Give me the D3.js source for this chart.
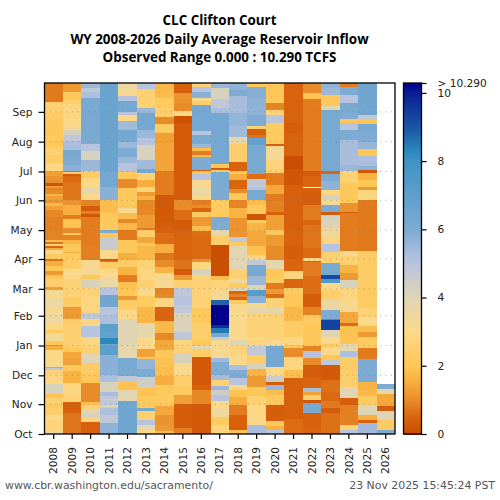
<!DOCTYPE html>
<html>
<head>
<meta charset="utf-8">
<script src="https://d3js.org/d3.v7.min.js"></script>
<style>
body { margin: 0; background: #fff; }
text { font-family: "DejaVu Sans", sans-serif; }
</style>
</head>
<body>
<script>
"use strict";

/* Each water year: [last day of the run counted from Oct 1, inflow in TCFS] */
var wy2008 = [[3,3.6],[15,2.7],[20,2.9],[27,2.4],[32,2.2],[37,2.6],[42,1.9],[52,4.2],[61,2.8],[67,2.6],[69,4.8],[70,5.6],[75,3.2],[87,2.9],[91,1.5],[93,1.1],[97,2],[105,3.3],[108,2.2],[115,2.9],[125,3.5],[132,3.2],[140,3.6],[150,3.2],[153,1.3],[162,2.4],[165,1.9],[169,1.2],[175,2],[180,1.5],[182,0.7],[187,2.2],[191,3],[193,1.5],[195,0.5],[198,2.5],[200,0.7],[202,1.8],[212,0.9],[226,0.85],[233,0.95],[237,1.3],[240,1.7],[243,1.1],[247,1.3],[250,1.6],[254,1],[256,0.9],[258,1.2],[261,0.2],[263,1],[268,1.1],[274,1.3],[282,2.9],[290,2.3],[296,2.6],[300,2.3],[305,2],[310,2.2],[328,2.1],[335,2.3],[345,2.5],[365,0.75]];
var wy2009 = [[22,0.7],[33,0.4],[40,2.6],[53,2.8],[65,1.6],[72,2.1],[79,1.3],[85,1.4],[89,2],[112,2.5],[120,2.4],[132,1.2],[141,2.3],[152,2.5],[161,2.6],[172,3],[181,2.3],[188,2.2],[189,1.5],[198,2.1],[202,1.7],[207,0.9],[209,2],[214,1],[224,1.9],[228,0.8],[238,1.5],[243,1.1],[262,0.7],[268,0.55],[270,0.3],[272,2.4],[274,0.6],[280,5.8],[287,6],[295,6.2],[301,5.3],[305,5.2],[311,4.8],[316,4.2],[321,3.2],[328,3],[343,2.8],[347,2.4],[356,2.1],[365,1.2]];
var wy2010 = [[12,0.4],[17,2.8],[22,4.2],[26,4],[30,2.5],[33,1.9],[53,1],[61,2],[74,2.3],[83,4],[90,2.5],[101,2.8],[112,5],[120,2.8],[126,4.8],[143,2.8],[152,2.6],[161,4.2],[165,2],[181,3.2],[195,0.85],[226,0.8],[229,0.2],[232,0.85],[237,0.3],[243,0.9],[250,3],[257,3.8],[266,2.9],[273,2.2],[285,5.5],[294,4.2],[302,5],[306,6],[349,6.2],[356,5.2],[360,4.8],[365,5.5]];
var wy2011 = [[11,5.7],[20,4.8],[27,5.2],[28,2.1],[30,4],[35,4.8],[36,2],[39,4.8],[44,5.3],[54,4.2],[61,5.2],[82,5.8],[91,7],[94,6.5],[100,8.3],[106,6.8],[114,7],[124,5.2],[132,5],[145,6.4],[153,5],[162,3.6],[172,3],[179,2.3],[180,0.8],[182,0.3],[191,3],[205,4.6],[209,2],[212,6],[216,2.2],[230,2.1],[243,1.8],[257,5.8],[273,6.3],[365,6.6]];
var wy2012 = [[34,6.4],[46,3.9],[54,1.9],[60,4.8],[79,6.2],[91,3.8],[120,4],[129,3],[139,2.3],[143,1.2],[150,2],[158,1.9],[165,0.8],[174,1.6],[181,2.3],[188,1.5],[202,2.1],[212,0.75],[219,1.7],[224,0.95],[230,1.8],[235,3.2],[256,2.1],[265,1],[272,2.1],[282,5],[288,5.5],[297,6],[304,5.5],[316,6.3],[325,5.4],[332,3],[335,5],[346,6.3],[351,5],[359,3.2],[365,3.6]];
var wy2013 = [[4,3],[9,3.8],[15,5],[24,2.5],[27,6.2],[39,2.1],[48,1.9],[59,4.4],[68,6],[78,5.6],[80,2],[88,1.3],[101,3],[115,3.8],[120,1.6],[132,1.7],[143,2.2],[152,3],[160,2.5],[171,2.8],[181,2.6],[195,1.7],[199,2],[205,1.4],[212,2.4],[214,0.8],[228,1.2],[243,0.95],[248,1.6],[252,1.2],[257,2.7],[264,1.5],[271,2.6],[276,6.2],[285,5.4],[301,4.2],[308,5],[316,5.5],[334,6.3],[339,5.5],[351,2.5],[359,2.5],[365,5]];
var wy2014 = [[3,1.8],[9,1.2],[20,1.1],[29,1.4],[41,2.2],[51,2.1],[60,1.5],[70,1.8],[79,1.9],[87,2.1],[98,1.4],[105,0.95],[117,1.7],[132,0.5],[141,2.8],[146,1],[152,0.9],[167,3.2],[174,1.6],[181,1],[188,0.7],[198,1.5],[209,0.6],[214,0.4],[219,0.35],[249,0.25],[273,0.8],[304,1.35],[313,1.3],[322,2.2],[330,1],[339,2.4],[349,2.2],[356,1.8],[365,1.7]];
var wy2015 = [[6,0.85],[31,0.35],[41,1.3],[49,2.2],[61,2.4],[74,3.1],[84,4.2],[90,2.6],[98,2.8],[106,4.8],[126,4.1],[134,4.8],[143,5],[152,4.8],[160,2.5],[165,1.2],[172,0.3],[181,0.7],[205,0.5],[212,0.45],[223,0.3],[233,0.6],[243,1],[249,0.3],[323,0.3],[331,0.1],[336,2.9],[344,1],[355,1.1],[365,0.4]];
var wy2016 = [[31,0.25],[46,0.95],[51,0.4],[80,0.25],[88,2.3],[91,4],[98,2.1],[115,2.4],[131,2.1],[165,2.6],[172,4.2],[179,2.8],[182,1.1],[205,0.55],[211,0.6],[216,1.8],[226,1.2],[231,2.2],[235,0.5],[238,1],[243,0.8],[248,3],[256,3.6],[264,3.2],[270,5],[273,2],[275,0.3],[288,6],[290,1.8],[294,0.8],[297,1.8],[302,5.5],[311,6.2],[315,5],[342,6.3],[346,2.4],[349,3],[356,5.8],[361,5],[365,2.7]];
var wy2017 = [[9,2.8],[18,2.2],[27,3.4],[34,3],[41,5],[46,4.5],[50,5.5],[56,2.6],[61,5.3],[75,6],[79,5.4],[98,3.2],[101,4.5],[105,6.2],[110,8.5],[113,9.7],[134,10.29],[139,8.8],[150,3.2],[160,2.7],[164,1.8],[197,0.05],[207,2.4],[212,3.8],[226,6],[243,2.2],[272,6.1],[275,2.4],[277,0.3],[281,2],[334,6.3],[339,5.2],[348,4.8],[360,4.2],[365,5.5]];
var wy2018 = [[4,1.9],[6,0.4],[20,0.4],[30,0.8],[38,1.5],[46,1.9],[51,2.9],[58,5],[67,6],[72,5.2],[82,3],[91,2.7],[98,3.9],[120,3],[135,3.1],[139,2.2],[142,0.5],[146,0.9],[149,0.5],[152,4],[157,2.2],[161,3.5],[171,2.5],[179,4],[195,3.9],[200,2.2],[205,4.8],[214,1.1],[225,1.1],[235,1.6],[243,0.9],[251,2],[255,1],[264,0.5],[270,1.5],[273,2],[283,0.45],[302,2.4],[309,3.8],[320,5.4],[334,5.6],[351,5.3],[358,6],[365,5.7]];
var wy2019 = [[9,5.3],[20,3],[30,2.9],[39,2.5],[49,2],[60,1.2],[68,1.6],[74,4.2],[82,2.3],[91,4.8],[101,2.8],[126,2.6],[132,3.8],[136,3.2],[143,5.8],[150,7.2],[155,4],[164,5.5],[176,6.2],[181,4.8],[186,2.8],[195,1.9],[211,1.4],[219,1.6],[223,2.2],[229,0.2],[238,2.1],[243,1.8],[254,6.2],[257,5],[265,4.8],[270,0.6],[301,6.2],[308,6.8],[311,0.7],[317,0.4],[320,2.5],[332,6],[349,5.7],[361,5.9],[365,2]];
var wy2020 = [[4,5],[8,1.6],[13,2.1],[30,0.35],[41,2.1],[46,1.8],[51,5.5],[54,0.3],[60,4.5],[70,2.9],[91,6.3],[98,3.2],[126,2.6],[132,3.8],[141,2.6],[146,0.6],[151,1.2],[157,0.8],[164,2.2],[172,2],[181,3.8],[195,1],[207,1.2],[212,2],[228,1.3],[231,0.4],[242,0.85],[250,0.8],[259,1.4],[271,0.8],[276,2.5],[285,2.7],[299,3.3],[302,0.4],[323,2.2],[332,4.9],[337,2.7],[344,0.9],[354,2],[365,2]];
var wy2021 = [[16,0.6],[30,0.4],[58,0.42],[67,1.8],[80,2.8],[89,1],[93,2],[101,2.8],[117,2.3],[132,1.7],[146,2],[152,2.2],[161,0.5],[169,2.7],[182,0.5],[197,0.35],[212,0.45],[259,0.4],[273,0.2],[275,0.3],[289,0.05],[313,0.45],[323,0.35],[365,0.45]];
var wy2022 = [[8,0.45],[22,0.4],[32,6.2],[35,0.2],[41,2.4],[44,1.3],[48,5.3],[58,0.5],[72,0.35],[79,1],[86,5],[91,0.9],[115,2],[124,2.2],[132,0.9],[146,0.35],[164,0.6],[179,0.8],[180,0.4],[183,3],[193,0.55],[217,0.7],[223,0.5],[238,0.8],[256,0.35],[257,null],[268,0.5],[274,0.3],[348,0.8],[355,1.9],[365,1]];
var wy2023 = [[22,0.65],[27,0.3],[34,0.75],[44,0.55],[56,0.65],[72,0.25],[77,4.8],[82,2],[89,3],[94,2.3],[101,3],[108,4],[119,9.3],[120,8],[129,6],[139,3.6],[150,2.4],[157,3],[161,7.5],[165,9.2],[178,6.2],[189,2.5],[198,5],[205,2.8],[214,3.4],[224,4.1],[228,4.3],[231,0.3],[238,6.1],[243,3.3],[249,4.2],[254,2.8],[263,5.7],[270,6],[273,0.5],[337,6.2],[341,3.8],[353,2.1],[360,5.5],[365,5.7]];
var wy2024 = [[4,5],[9,2.6],[30,0.85],[37,0.35],[49,3.9],[63,2.4],[80,2.3],[86,5.2],[94,3.8],[112,1.9],[115,0.6],[127,1.4],[138,3.2],[152,2.8],[160,4.2],[167,1.2],[176,1.6],[185,2.5],[190,3.2],[230,0.8],[231,0.4],[240,1.1],[249,2.1],[261,2.1],[270,2.5],[274,2.8],[280,5.5],[306,5.3],[316,6],[323,5],[328,2],[335,6],[344,6.2],[353,5],[361,6],[365,0.8]];
var wy2025 = [[11,5.4],[15,0.4],[20,1.5],[30,4],[39,2.2],[46,1.7],[54,1.6],[78,6],[89,0.75],[101,2.2],[106,1.2],[112,1.8],[122,3],[131,2.6],[152,2.2],[190,2.3],[243,0.75],[254,2.8],[257,1.2],[264,2],[271,1.6],[275,0.2],[279,5.7],[289,5.2],[296,2],[304,5.6],[313,6],[322,6.2],[327,2],[332,4.8],[365,6.4]];
var wy2026 = [[4,6],[15,2.3],[24,4],[29,0.35],[42,1.4],[47,3.8],[52,6]];

var years = ["2008","2009","2010","2011","2012","2013","2014","2015","2016","2017","2018","2019","2020","2021","2022","2023","2024","2025","2026"];
var runs = [wy2008,wy2009,wy2010,wy2011,wy2012,wy2013,wy2014,wy2015,wy2016,wy2017,wy2018,wy2019,wy2020,wy2021,wy2022,wy2023,wy2024,wy2025,wy2026];

var monthNames = ["Oct","Nov","Dec","Jan","Feb","Mar","Apr","May","Jun","Jul","Aug","Sep"];
var monthDays = [0,31,61,92,123,151,182,212,243,273,304,335];

var colorStops = [0,0.5,1,1.5,2,3,4,5,6,7,8,8.3,9,10,10.29];
var colorHexes = ["#c94c00","#d9650f","#e88c2a","#f7ae3e","#fec757","#fcd98a","#dfd5b5","#b8c4df","#7eabd3","#5d9fcb","#3f94c4","#2a88ba","#1a55a5","#0a1e95","#00008b"];
var barTicks = [0,2,4,6,8,10,10.29];

var titleLines = ["CLC Clifton Court","WY 2008-2026 Daily Average Reservoir Inflow","Observed Range 0.000 : 10.290 TCFS"];

var svg = d3.select("body").append("svg").attr("width",500).attr("height",500);
var plot = {left:44.5, right:395, top:83, bottom:434};

var x = d3.scaleBand().domain(years).range([plot.left,plot.right]);
var y = d3.scaleLinear().domain([0,365]).range([plot.bottom,plot.top]);
var color = d3.scaleLinear().domain(colorStops).range(colorHexes).clamp(true);

// title
svg.append("g").selectAll("text").data(titleLines).enter().append("text")
	.attr("x",219.5).attr("y",function(d,i){ return 25+i*18.7; })
	.attr("text-anchor","middle")
	.style("font-family","'Open Sans'").style("font-weight",700).style("font-size","13.4px")
	.text(function(d){ return d; });

// heatmap cells, one rect per run
years.forEach(function(yr,i){
	var start = 0;
	runs[i].forEach(function(r){
		if (r[1] !== null) {
			svg.append("rect")
				.attr("x",x(yr)).attr("width",x.bandwidth())
				.attr("y",y(r[0])).attr("height",y(start)-y(r[0]))
				.attr("fill",color(r[1]))
				.attr("shape-rendering","crispEdges");
		}
		start = r[0];
	});
});

// month grid
svg.append("g").selectAll("line").data(monthDays.slice(1)).enter().append("line")
	.attr("x1",plot.left).attr("x2",plot.right)
	.attr("y1",function(d){ return y(d); }).attr("y2",function(d){ return y(d); })
	.attr("stroke","#777").attr("stroke-opacity",0.55).attr("stroke-width",1)
	.attr("stroke-dasharray","1,4.5");

// frame
svg.append("rect").attr("x",plot.left).attr("y",plot.top)
	.attr("width",plot.right-plot.left).attr("height",plot.bottom-plot.top)
	.attr("fill","none").attr("stroke","#000").attr("stroke-width",1.3);

// axes
var yAxis = d3.axisLeft(y).tickValues(monthDays).tickSize(6).tickPadding(6)
	.tickFormat(function(d,i){ return monthNames[i]; });
var gy = svg.append("g").attr("transform","translate("+plot.left+",0)").call(yAxis);
gy.select(".domain").remove();
gy.selectAll("line").attr("stroke-width",1.2);
gy.selectAll("text").style("font-size","10.6px").attr("fill","#222");

var xAxis = d3.axisBottom(x).tickSize(5);
var gx = svg.append("g").attr("transform","translate(0,"+plot.bottom+")").call(xAxis);
gx.select(".domain").remove();
gx.selectAll("line").attr("stroke-width",1.2);
gx.selectAll("text")
	.style("font-size","10.6px").attr("fill","#222")
	.attr("text-anchor","end").attr("x",0).attr("y",0).attr("dy","0.35em")
	.attr("transform","translate(0,13) rotate(-90)");

// colour bar
var bar = {left:403.5, right:421.5};
var barY = d3.scaleLinear().domain([0,10.29]).range([plot.bottom,plot.top]);
svg.append("g").selectAll("rect").data(d3.range(0,10.29,0.03)).enter().append("rect")
	.attr("x",bar.left).attr("width",bar.right-bar.left)
	.attr("y",function(d){ return barY(d+0.03); })
	.attr("height",function(d){ return barY(d)-barY(d+0.03)+0.5; })
	.attr("fill",function(d){ return color(d); })
	.attr("shape-rendering","crispEdges");
svg.append("rect").attr("x",bar.left).attr("y",plot.top)
	.attr("width",bar.right-bar.left).attr("height",plot.bottom-plot.top)
	.attr("fill","none").attr("stroke","#000").attr("stroke-width",1.3);
var barAxis = d3.axisRight(barY).tickValues(barTicks).tickSize(5).tickPadding(11)
	.tickFormat(function(d){ return d === 10.29 ? "> 10.290" : d; });
var gb = svg.append("g").attr("transform","translate("+bar.right+",0)").call(barAxis);
gb.select(".domain").remove();
gb.selectAll("line").attr("stroke-width",1.2);
gb.selectAll("text").style("font-size","10.6px").attr("fill","#222");

// footer
svg.append("text").attr("x",5).attr("y",489).attr("fill","#555").style("font-size","10.9px")
	.text("www.cbr.washington.edu/sacramento/");
svg.append("text").attr("x",495).attr("y",489).attr("text-anchor","end").attr("fill","#555").style("font-size","10.9px")
	.text("23 Nov 2025 15:45:24 PST");
</script>
</body>
</html>
